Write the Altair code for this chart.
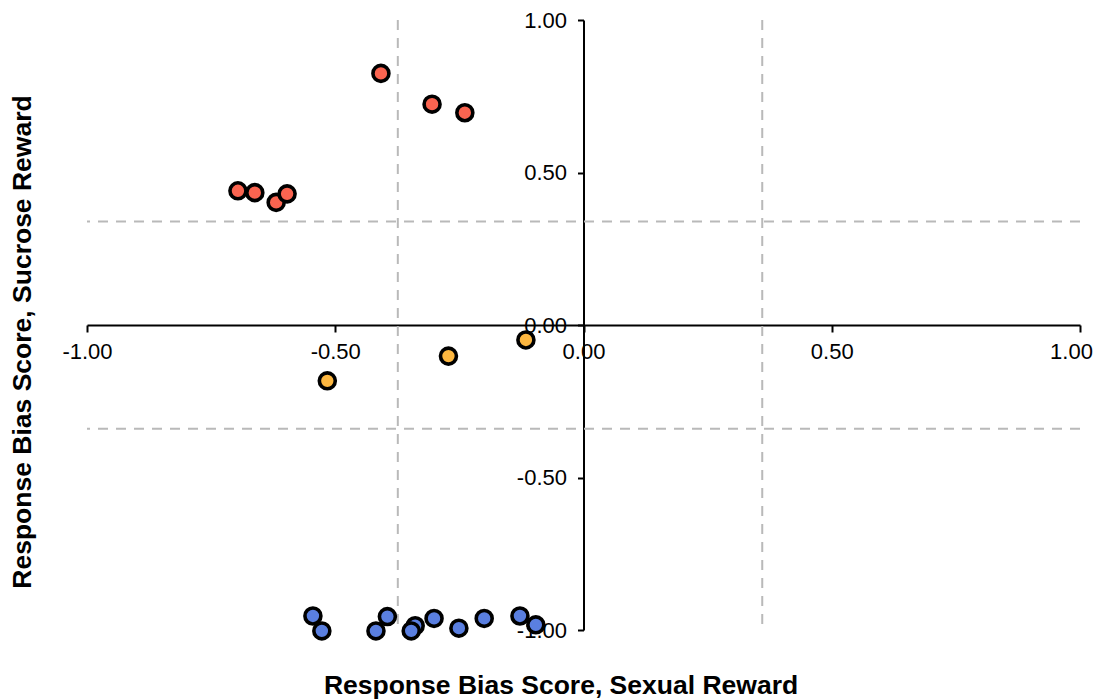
import altair as alt
import pandas as pd

# Data
sexual_red = [-0.408, -0.305, -0.239, -0.696, -0.662, -0.619, -0.597]
sucrose_red = [0.825, 0.724, 0.696, 0.440, 0.434, 0.402, 0.430]

sexual_orange = [-0.516, -0.272, -0.116]
sucrose_orange = [-0.183, -0.102, -0.049]

sexual_blue = [-0.545, -0.527, -0.418, -0.395, -0.339, -0.347, -0.301, -0.251, -0.200, -0.128, -0.096]
sucrose_blue = [-0.954, -1.003, -1.003, -0.956, -0.986, -1.003, -0.962, -0.994, -0.962, -0.954, -0.983]

x_thresholds = [-0.374, 0.360]
y_thresholds = [0.339, -0.340]

tick_values = [-1.0, -0.5, 0.0, 0.5, 1.0]

groups = (["red"] * len(sexual_red) + ["orange"] * len(sexual_orange) + ["blue"] * len(sexual_blue))
df = pd.DataFrame({
    "x": sexual_red + sexual_orange + sexual_blue,
    "y": sucrose_red + sucrose_orange + sucrose_blue,
    "g": groups,
})
vdf = pd.DataFrame({"x": x_thresholds})
hdf = pd.DataFrame({"y": y_thresholds})

W, H = 993, 610
FONT = "Liberation Sans"

xscale = alt.Scale(domain=[-1, 1], nice=False, zero=False)
yscale = alt.Scale(domain=[-1, 1], nice=False, zero=False)

label_expr = "(datum.value < 0 ? '-' : '') + format(abs(datum.value), '.2f')"

xaxis = alt.Axis(
    values=tick_values, title=None, grid=False, orient="bottom", offset=-H / 2,
    labelExpr=label_expr, labelFlush=False, labelOverlap=False,
    labelOffset={"condition": {"test": "datum.value >= 1", "value": -9}, "value": 0},
    domainColor="black", domainWidth=2, tickColor="black", tickWidth=2, tickSize=7,
    labelFont=FONT, labelFontSize=22, labelColor="black", labelPadding=9,
)
yaxis = alt.Axis(
    values=tick_values, title=None, grid=False, orient="left", offset=-W / 2,
    labelExpr=label_expr, labelFlush=False, labelOverlap=False,
    domainColor="black", domainWidth=2, tickColor="black", tickWidth=2, tickSize=6,
    labelFont=FONT, labelFontSize=22, labelColor="black", labelPadding=11,
)

X = alt.X("x:Q", scale=xscale, axis=xaxis)
Y = alt.Y("y:Q", scale=yscale, axis=yaxis)

vlines = alt.Chart(vdf).mark_rule(color="#B9B9B9", strokeWidth=2, strokeDash=[10, 8]).encode(x=X)
hlines = alt.Chart(hdf).mark_rule(color="#B9B9B9", strokeWidth=2, strokeDash=[10, 8]).encode(y=Y)

points = alt.Chart(df).mark_circle(size=255, stroke="black", strokeWidth=3.6, opacity=1).encode(
    x=X,
    y=Y,
    color=alt.Color("g:N", scale=alt.Scale(domain=["red", "orange", "blue"],
                                           range=["#FA6450", "#FDB740", "#5A7FE0"]), legend=None),
)

xtitle = alt.Chart(pd.DataFrame({"t": ["Response Bias Score, Sexual Reward"]})).mark_text(
    font=FONT, fontSize=26.5, fontWeight="bold", color="black", align="center", baseline="middle"
).encode(x=alt.value(474), y=alt.value(666), text="t:N")

ytitle = alt.Chart(pd.DataFrame({"t": ["Response Bias Score, Sucrose Reward"]})).mark_text(
    font=FONT, fontSize=26.5, fontWeight="bold", color="black", align="center", baseline="middle", angle=270
).encode(x=alt.value(-64), y=alt.value(322), text="t:N")

chart = alt.layer(vlines, hlines, points, xtitle, ytitle).properties(
    width=W, height=H,
    autosize=alt.AutoSizeParams(type="none"),
    padding={"left": 79, "top": 12, "right": 14, "bottom": 70},
    background="white",
).configure_view(strokeWidth=0, strokeOpacity=0)

chart.save("out.html", embed_options={"renderer": "svg", "actions": False})
